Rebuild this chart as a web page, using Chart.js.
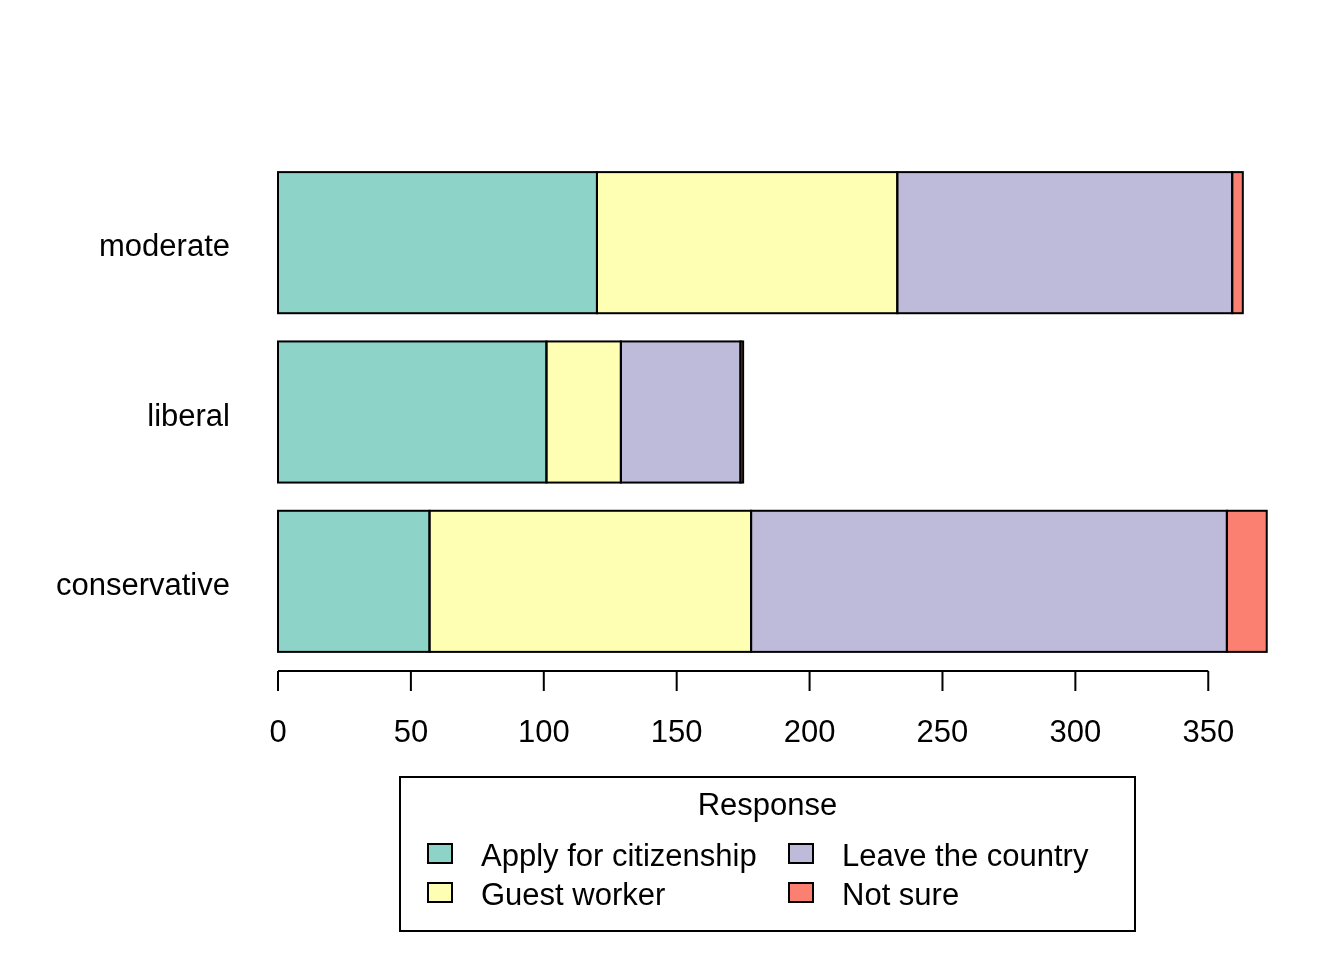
<!DOCTYPE html>
<html>
<head>
<meta charset="utf-8">
<script src="https://cdn.jsdelivr.net/npm/chart.js@4/dist/chart.umd.min.js"></script>
<style>
  html, body { margin: 0; padding: 0; background: #ffffff; }
  #wrap { width: 1344px; height: 960px; }
</style>
</head>
<body>
<div id="wrap"><canvas id="responseChart" width="1344" height="960"></canvas></div>
<script>
// --- data ---
const ideologies = ['moderate', 'liberal', 'conservative'];
const responses = ['Apply for citizenship', 'Guest worker', 'Leave the country', 'Not sure'];
const citizenship = [120, 101, 57];
const guestWorker = [113, 28, 121];
const leaveCountry = [126, 45, 179];
const notSure = [4, 1, 15];
const xTicks = [0, 50, 100, 150, 200, 250, 300, 350];
const legendTitle = 'Response';

const palette = ['#8DD3C7', '#FFFFB3', '#BEBADA', '#FB8072'];
const FONT = '"Liberation Sans", Arial, sans-serif';
const FSIZE = 31;

// R-style black outlines round each stacked piece (centred on the edge)
const barOutline = {
    id: 'barOutline',
    afterDatasetsDraw(chart) {
        const ctx = chart.ctx;
        ctx.save();
        ctx.strokeStyle = '#000';
        ctx.lineWidth = 2;
        chart.data.datasets.forEach((ds, i) => {
            const meta = chart.getDatasetMeta(i);
            meta.data.forEach(bar => {
                const left = Math.min(bar.x, bar.base);
                const w = Math.abs(bar.x - bar.base);
                ctx.strokeRect(left, bar.y - bar.height / 2, w, bar.height);
            });
        });
        ctx.restore();
    }
};

// base-graphics style x axis: line only across the tick range, sitting below the bars
const rAxis = {
    id: 'rAxis',
    afterDraw(chart) {
        const ctx = chart.ctx;
        const xs = chart.scales.x;
        const y0 = chart.chartArea.bottom + 5;
        ctx.save();
        ctx.strokeStyle = '#000';
        ctx.lineWidth = 2;
        ctx.beginPath();
        ctx.moveTo(xs.getPixelForValue(xTicks[0]), y0);
        ctx.lineTo(xs.getPixelForValue(xTicks[xTicks.length - 1]), y0);
        xTicks.forEach(t => {
            const px = xs.getPixelForValue(t);
            ctx.moveTo(px, y0);
            ctx.lineTo(px, y0 + 20);
        });
        ctx.stroke();
        ctx.fillStyle = '#000';
        ctx.font = FSIZE + 'px ' + FONT;
        ctx.textAlign = 'center';
        ctx.textBaseline = 'alphabetic';
        xTicks.forEach(t => ctx.fillText(String(t), xs.getPixelForValue(t), y0 + 71));
        ctx.restore();
    }
};

// boxed two-column legend with a title, like legend(ncol = 2, title = ...)
const boxLegend = {
    id: 'boxLegend',
    afterDraw(chart) {
        const ctx = chart.ctx;
        const bx = 400, by = 777, bw = 735, bh = 154;
        ctx.save();
        ctx.strokeStyle = '#000';
        ctx.lineWidth = 2;
        ctx.strokeRect(bx, by, bw, bh);
        ctx.fillStyle = '#000';
        ctx.font = FSIZE + 'px ' + FONT;
        ctx.textAlign = 'center';
        ctx.textBaseline = 'alphabetic';
        ctx.fillText(legendTitle, bx + bw / 2, 815);
        ctx.textAlign = 'left';
        const colX = [428, 789];
        const rowY = [844, 883];
        chart.data.datasets.forEach((ds, i) => {
            const col = Math.floor(i / 2), row = i % 2;
            ctx.fillStyle = ds.backgroundColor;
            ctx.fillRect(colX[col], rowY[row], 24, 19);
            ctx.strokeRect(colX[col], rowY[row], 24, 19);
            ctx.fillStyle = '#000';
            ctx.fillText(ds.label, colX[col] + 53, rowY[row] + 22);
        });
        ctx.restore();
    }
};

const seriesValues = [citizenship, guestWorker, leaveCountry, notSure];

new Chart(document.getElementById('responseChart').getContext('2d'), {
    type: 'bar',
    data: {
        labels: ideologies,
        datasets: responses.map((name, i) => ({
            label: name,
            data: seriesValues[i],
            backgroundColor: palette[i],
            borderWidth: 0,
            barPercentage: 1,
            categoryPercentage: 1 / 1.2
        }))
    },
    options: {
        indexAxis: 'y',
        responsive: false,
        animation: false,
        devicePixelRatio: 1,
        layout: { padding: { top: 158, bottom: 294, left: 0, right: 56 } },
        scales: {
            x: {
                display: false,
                stacked: true,
                min: 0,
                max: 380
            },
            y: {
                stacked: true,
                grid: { display: false, drawTicks: false, tickLength: 0 },
                border: { display: false },
                ticks: {
                    color: '#000',
                    font: { family: FONT, size: FSIZE },
                    padding: 48,
                    labelOffset: 5
                },
                afterFit(scale) { scale.width = 278; }
            }
        },
        plugins: {
            legend: { display: false },
            tooltip: { enabled: false }
        }
    },
    plugins: [barOutline, rAxis, boxLegend]
});
</script>
</body>
</html>
